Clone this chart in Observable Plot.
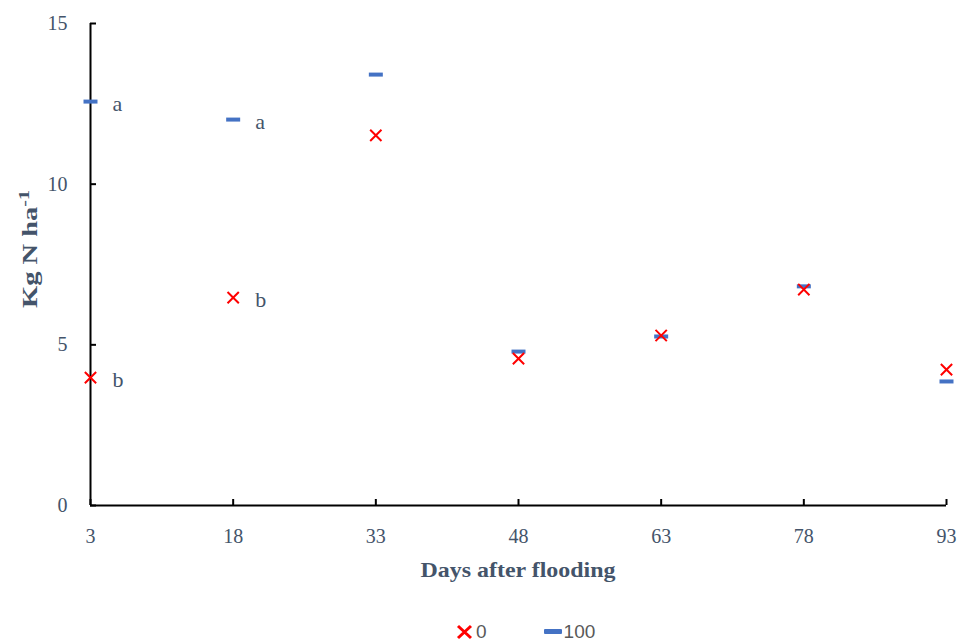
<!DOCTYPE html>
<html><head><meta charset="utf-8">
<script src="https://cdn.jsdelivr.net/npm/d3@7"></script>
<script src="https://cdn.jsdelivr.net/npm/@observablehq/plot@0.6"></script>
<style>
body{margin:0;background:#fff;overflow:hidden;}
#chart{position:relative;width:958px;height:643px;}
#legend{position:absolute;left:456px;top:622px;display:flex;align-items:center;font-family:"Liberation Sans",sans-serif;font-size:19px;color:#595959;line-height:19px;height:19px;}
#legend span.item{display:flex;align-items:center;}
</style></head><body><div id="chart"></div>
<script>
const days = [3, 18, 33, 48, 63, 78, 93];
const n0 = [3.98, 6.47, 11.52, 4.57, 5.29, 6.72, 4.23];
const n100 = [12.57, 12.01, 13.41, 4.79, 5.26, 6.82, 3.86];
const letterDays = [3, 18, 3, 18];
const letterValues = [12.57, 12.01, 3.98, 6.47];
const letters = ["a", "a", "b", "b"];
const yTicks = [0, 5, 10, 15];
const seriesNames = ["0", "100"];

const rows0 = days.map((d, i) => ({day: d, value: n0[i]}));
const rows100 = days.map((d, i) => ({day: d, value: n100[i]}));
const letterRows = letters.map((l, i) => ({day: letterDays[i], value: letterValues[i], text: l}));

const dash = {draw(ctx) { ctx.rect(-7, -2, 14, 4); }};
const textColor = "#44546a";

const plot = Plot.plot({
  width: 958,
  height: 615,
  marginLeft: 90,
  marginRight: 12,
  marginTop: 23,
  marginBottom: 110,
  style: {fontFamily: "'Liberation Serif', serif", fontSize: "20px", color: textColor, background: "#fff", overflow: "visible"},
  x: {domain: [3, 93]},
  y: {domain: [0, 15]},
  marks: [
    Plot.axisX({ticks: days, tickSize: -6, tickPadding: 29, label: null, stroke: "black", strokeWidth: 2, fill: textColor}),
    Plot.axisY({ticks: yTicks, tickSize: -6, tickPadding: 29, label: null, stroke: "black", strokeWidth: 2, fill: textColor}),
    Plot.ruleX([3], {stroke: "black", strokeWidth: 2}),
    Plot.ruleY([0], {stroke: "black", strokeWidth: 2}),
    Plot.dot(rows100, {x: "day", y: "value", symbol: dash, fill: "#4472c4", stroke: null}),
    Plot.dot(rows0, {x: "day", y: "value", symbol: "times", r: 5.2, stroke: "#ff0000", strokeWidth: 2}),
    Plot.text(letterRows, {x: "day", y: "value", text: "text", dx: 22, dy: 2, textAnchor: "start", fill: textColor, fontSize: 22})
  ]
});
document.getElementById("chart").appendChild(plot);

const svg = d3.select(plot);
svg.append("text")
  .attr("x", 518).attr("y", 577)
  .attr("text-anchor", "middle")
  .attr("font-weight", "bold")
  .attr("font-size", 22)
  .attr("fill", textColor)
  .attr("textLength", 195)
  .attr("lengthAdjust", "spacingAndGlyphs")
  .text("Days after flooding");

const yl = svg.append("text")
  .attr("text-anchor", "middle")
  .attr("font-weight", "bold")
  .attr("font-size", 20)
  .attr("fill", textColor);
yl.append("tspan").text("Kg N ha");
yl.append("tspan").attr("dy", -8).attr("font-size", 14).text("-1");
const len = yl.node().getComputedTextLength();
const sx = 118 / len;
yl.attr("transform", `translate(37,249) rotate(-90) scale(${sx},1)`);

const legend = d3.select("#chart").append("div").attr("id", "legend");
const l0 = legend.append("span").attr("class", "item");
l0.append("svg").attr("width", 17).attr("height", 16).append("path")
  .attr("d", "M2,2L15,14M15,2L2,14").attr("stroke", "#ff0000").attr("stroke-width", 3);
l0.append("span").style("margin-left", "3px").text(seriesNames[0]);
const l1 = legend.append("span").attr("class", "item").style("margin-left", "57px");
l1.append("svg").attr("width", 18).attr("height", 16).append("rect")
  .attr("x", 0).attr("y", 5).attr("width", 18).attr("height", 5).attr("rx", 1).attr("fill", "#4472c4");
l1.append("span").style("margin-left", "2px").text(seriesNames[1]);
</script>
</body></html>
